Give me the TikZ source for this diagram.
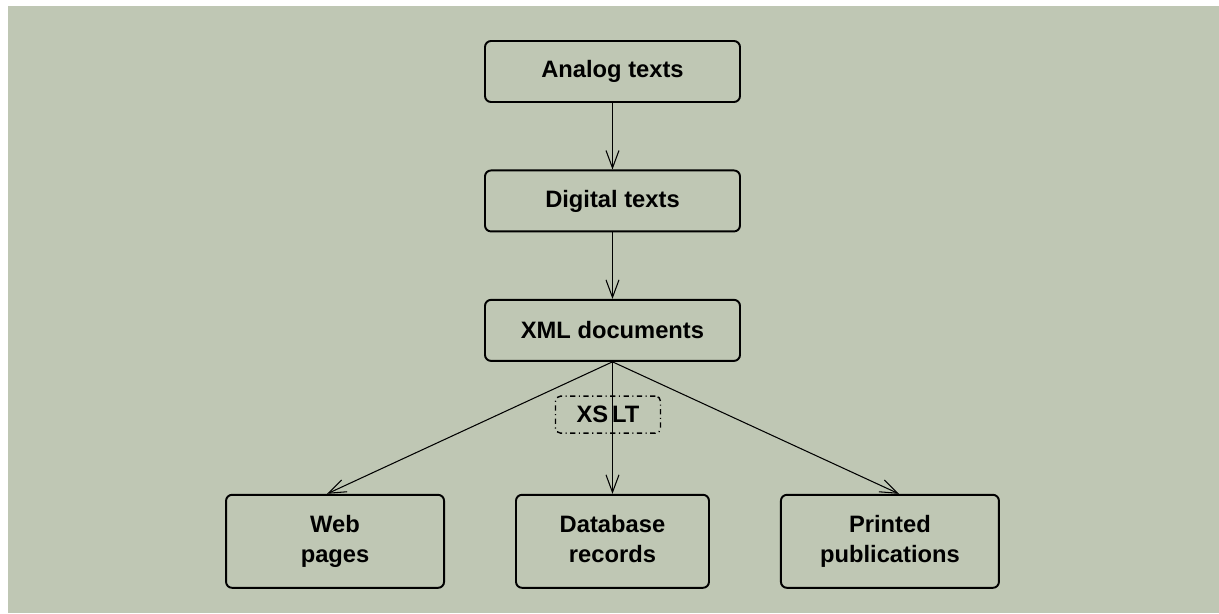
\documentclass[tikz,border=0pt]{standalone}
\usepackage{fontspec}
\setmainfont{Liberation Sans}
\usetikzlibrary{positioning,arrows.meta}

\definecolor{sage}{RGB}{191,199,180}

\begin{document}
\begin{tikzpicture}[
    box/.style={draw, thick, line width=1.1pt, rounded corners=0.12cm,
      minimum width=5.1cm, minimum height=1.22cm, align=center,
      font=\fontsize{13.5}{17}\selectfont\bfseries},
    outbox/.style={box, minimum width=4.36cm, minimum height=1.86cm},
    xslt/.style={draw, dash dot, line width=0.8pt, rounded corners=0.1cm,
      minimum width=2.1cm, minimum height=0.74cm,
      font=\fontsize{13.5}{17}\selectfont\bfseries},
    flow/.style={line width=0.6pt, -{Straight Barb[length=0.35cm,width=0.26cm]}}
  ]
  % paper and background
  \useasboundingbox (-12.25, 1.43) rectangle (12.13, -10.83);
  \fill[white] (-12.25, 1.43) rectangle (12.13, -10.83);
  \fill[sage] (-12.09, 1.31) rectangle (12.13, -10.83);

  \node[box] (analog) at (0, 0) {Analog texts};
  \node[box, below=1.33cm of analog] (digital) {Digital texts};
  \node[box, below=1.33cm of digital] (xml) {XML documents};

  \node[outbox, minimum width=3.86cm, below=2.64cm of xml] (db) {Database\strut\\records\strut};
  \node[outbox, left=1.4cm of db] (web) {Web\strut\\pages\strut};
  \node[outbox, right=1.4cm of db] (print) {Printed\strut\\publications\strut};

  \draw[flow] (analog) -- (digital);
  \draw[flow] (digital) -- (xml);

  \draw[flow] (xml.south) -- node[xslt, pos=0.4, xshift=-0.09cm] (trans) {XS\,LT} (db.north);
  \draw[flow] (xml.south) -- ([xshift=-0.16cm]web.north);
  \draw[flow] (xml.south) -- ([xshift=0.18cm]print.north);
\end{tikzpicture}
\end{document}
